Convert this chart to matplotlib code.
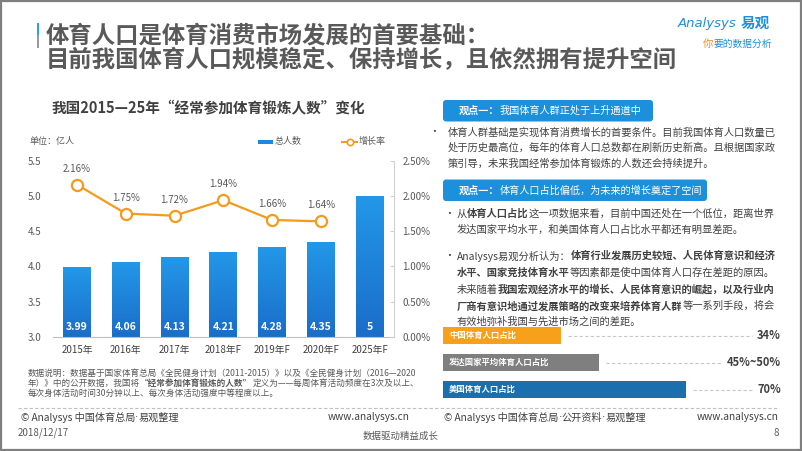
import numpy as np
import matplotlib
matplotlib.use('Agg')
import matplotlib.pyplot as plt
from matplotlib.patches import FancyBboxPatch, Rectangle
from matplotlib.colors import LinearSegmentedColormap

FAM = ['Noto Sans CJK SC', 'DejaVu Sans']
plt.rcParams['font.family'] = FAM

# ---------------- data ----------------
categories = ['2015年', '2016年', '2017年', '2018年F', '2019年F', '2020年F', '2025年F']
population = [3.99, 4.06, 4.13, 4.21, 4.28, 4.35, 5]
pop_labels = ['3.99', '4.06', '4.13', '4.21', '4.28', '4.35', '5']
growth = [2.16, 1.75, 1.72, 1.94, 1.66, 1.64]
left_ticks = [3.0, 3.5, 4.0, 4.5, 5.0, 5.5]
right_ticks = [0.0, 0.5, 1.0, 1.5, 2.0, 2.5]

share_labels = ['中国体育人口占比', '发达国家平均体育人口占比', '美国体育人口占比']
share_values = [34, 45, 70]
share_texts = ['34%', '45%~50%', '70%']
share_colors = ['#F7A11A', '#7F7F7F', '#1A6FAE']

W, H = 802, 451
fig = plt.figure(figsize=(W / 100, H / 100), dpi=100)
fig.patch.set_facecolor('white')

ov = fig.add_axes([0, 0, 1, 1])
ov.set_xlim(0, W)
ov.set_ylim(H, 0)
ov.axis('off')
renderer = fig.canvas.get_renderer()

DARK = '#404040'
GRAY = '#595959'
BLUE = '#1E8FD8'
ORANGE = '#F59B1C'


def px_axes(x0, y0, x1, y1):
    return fig.add_axes([x0 / W, 1 - y1 / H, (x1 - x0) / W, (y1 - y0) / H])


def rich(x, y, segs, size=7.4, color=DARK):
    for seg in segs:
        txt, bold = seg[0], seg[1]
        fam = seg[2] if len(seg) > 2 else FAM
        t = ov.text(x, y, txt, fontsize=size, fontweight='bold' if bold else 'normal',
                    color=color, ha='left', va='center', family=fam)
        x += t.get_window_extent(renderer).width
    return x


# ---------------- frame & header ----------------
ov.add_patch(Rectangle((1, 1), W - 2, H - 2.5, fill=False, ec='#7F7F7F', lw=1.6))
ov.add_patch(Rectangle((36.5, 23), 2.5, 12, color='#2AA0E6', lw=0))
ov.add_patch(Rectangle((36.5, 35), 2.5, 13, color='#9A9A9A', lw=0))
ov.text(46, 35, '体育人口是体育消费市场发展的首要基础：', fontsize=16.8, fontweight='bold',
        color=GRAY, va='center', ha='left')
ov.text(46, 60, '目前我国体育人口规模稳定、保持增长，且依然拥有提升空间', fontsize=16.8,
        fontweight='bold', color=GRAY, va='center', ha='left')
ov.text(678, 23, 'Analysys', fontsize=9.5, style='italic', family='DejaVu Sans',
        color=BLUE, va='center', ha='left')
ov.text(741, 23, '易观', fontsize=10.5, fontweight='bold', color=BLUE, va='center', ha='left')
ov.text(703, 44, '你', fontsize=7.5, color='#F08C1E', va='center', ha='left')
ov.text(713, 44, '要的数据分析', fontsize=7, color=BLUE, va='center', ha='left')

# ---------------- left chart ----------------
ov.text(208.5, 108, '我国2015—25年“经常参加体育锻炼人数”变化', fontsize=10.5,
        fontweight='bold', color=DARK, ha='center', va='center')
ov.text(30, 141.5, '单位：亿人', fontsize=6.5, color=GRAY, va='center')
ov.add_patch(Rectangle((258, 139.5), 15, 4.5, color='#1E88E0', lw=0))
ov.text(275, 141.5, '总人数', fontsize=6.5, color=GRAY, va='center')
ov.plot([342, 357], [141.5, 141.5], color=ORANGE, lw=1.5)
ov.plot([349.5], [141.5], marker='o', ms=4.5, mfc='white', mec=ORANGE, mew=1.2)
ov.text(359, 141.5, '增长率', fontsize=6.5, color=GRAY, va='center')

ax = px_axes(52.6, 160.7, 394, 337)
ax.set_facecolor('none')
xs = np.arange(len(categories))
bars = ax.bar(xs, population, width=0.57, color='#1E88E0', zorder=2)
cmap = LinearSegmentedColormap.from_list('g', ['#2398E8', '#1A6DC8'])
grad = np.linspace(0, 1, 256).reshape(-1, 1)
for b in bars:
    im = ax.imshow(grad, extent=[b.get_x(), b.get_x() + b.get_width(), 3.0, b.get_height()],
                   cmap=cmap, aspect='auto', zorder=2.1, origin='upper')
    im.set_clip_path(b)
for i, lbl in enumerate(pop_labels):
    ax.annotate(lbl, (xs[i], 3.0), xytext=(0, 7.4), textcoords='offset points',
                ha='center', va='center', color='white', fontsize=7.5, fontweight='bold', zorder=5)
ax.set_xlim(-0.5, len(categories) - 0.5)
ax.set_ylim(left_ticks[0], left_ticks[-1])
ax.set_yticks(left_ticks)
ax.set_yticklabels([f'{v:.1f}' for v in left_ticks])
ax.set_xticks(xs)
ax.set_xticklabels(categories)
for s in ['top', 'left', 'right']:
    ax.spines[s].set_visible(False)
ax.spines['bottom'].set_color('#BFBFBF')
ax.tick_params(axis='y', length=0, pad=8, labelsize=7, labelcolor=GRAY)
ax.tick_params(axis='x', length=0, pad=6, labelsize=7, labelcolor=DARK)

ax2 = ax.twinx()
ax2.set_ylim(right_ticks[0], right_ticks[-1])
ax2.set_yticks(right_ticks)
ax2.set_yticklabels([f'{v:.2f}%' for v in right_ticks])
for s in ['top', 'left', 'bottom']:
    ax2.spines[s].set_visible(False)
ax2.spines['right'].set_color('#D0D0D0')
ax2.tick_params(axis='y', direction='in', length=3, color='#D0D0D0', pad=6,
                labelsize=7, labelcolor=GRAY)
gx = xs[:len(growth)]
ax2.plot(gx, growth, color=ORANGE, lw=1.6, marker='o', ms=8, mfc='white', mec=ORANGE,
         mew=1.6, zorder=4)
for i, g in enumerate(growth):
    ax2.annotate(f'{g:.2f}%', (gx[i], g), xytext=(0, 11.5), textcoords='offset points',
                 ha='center', va='center', fontsize=7, color=GRAY)

# notes
rich(28, 373, [('数据说明：数据基于国家体育总局《全民健身计划（2011-2015）》以及《全民健身计划（2016—2020', False)],
     size=6.2, color=GRAY)
rich(28, 383, [('年）》中的公开数据，我国将', False), ('“经常参加体育锻炼的人数”', True),
               ('定义为——每周体育活动频度在3次及以上、', False)], size=6.2, color=GRAY)
rich(28, 393, [('每次身体活动时间30分钟以上、每次身体活动强度中等程度以上。', False)],
     size=6.2, color=GRAY)

# ---------------- right panel ----------------
for (x0, x1, y0, y1, head, rest) in [
        (443, 653, 100, 121.5, '观点一：', '我国体育人群正处于上升通道中'),
        (443, 707, 179.5, 201, '观点一：', '体育人口占比偏低，为未来的增长奠定了空间')]:
    ov.add_patch(FancyBboxPatch((x0, y0), x1 - x0, y1 - y0,
                                boxstyle='round,pad=0,rounding_size=3', fc='#1C90DA', ec='none'))
    rich(459, (y0 + y1) / 2, [(head, True), (rest, False)], size=7.3, color='white')

ov.text(429, 132, '•', fontsize=7, color=DARK, va='center')
rich(448, 132, [('体育人群基础是实现体育消费增长的首要条件。目前我国体育人口数量已', False)])
rich(448, 148, [('处于历史最高位，每年的体育人口总数都在刷新历史新高。且根据国家政', False)])
rich(448, 164, [('策引导，未来我国经常参加体育锻炼的人数还会持续提升。', False)])

ov.text(444, 214, '•', fontsize=7, color=DARK, va='center')
rich(457, 214, [('从', False), ('体育人口占比', True), ('这一项数据来看，目前中国还处在一个低位，距离世界', False)])
rich(457, 230, [('发达国家平均水平，和美国体育人口占比水平都还有明显差距。', False)])

ov.text(444, 256, '•', fontsize=7, color=DARK, va='center')
rich(457, 256, [('Analysys易观分析认为：', False), ('体育行业发展历史较短、人民体育意识和经济', True)])
rich(457, 273, [('水平、国家竞技体育水平', True), ('等因素都是使中国体育人口存在差距的原因。', False)])
rich(457, 289.5, [('未来随着', False), ('我国宏观经济水平的增长、人民体育意识的崛起，以及行业内', True)])
rich(457, 306, [('厂商有意识地通过发展策略的改变来培养体育人群', True), ('等一系列手段，将会', False)])
rich(457, 322, [('有效地弥补我国与先进市场之间的差距。', False)])

# horizontal comparison bars
bx = px_axes(443, 322.2, 790, 403.2)
bx.axis('off')
ys = np.arange(len(share_values))
bx.barh(ys, share_values, height=0.62, color=share_colors)
bx.set_xlim(0, 100)
bx.set_ylim(len(share_values) - 0.5, -0.5)
for i in range(len(share_values)):
    bx.annotate(share_labels[i], (0, ys[i]), xytext=(4.5, 0), textcoords='offset points',
                ha='left', va='center', color='white', fontsize=6, fontweight='bold')
    t = bx.annotate(share_texts[i], (1, ys[i]), xycoords=('axes fraction', 'data'),
                    xytext=(-6.5, 0), textcoords='offset points', ha='right', va='center',
                    color=DARK, fontsize=8, fontweight='bold')
    bb = t.get_window_extent(renderer)
    y_px = 335.7 + 27 * i
    x_start = 443 + share_values[i] * 3.47 + 7
    ov.plot([x_start, bb.x0 - 5], [y_px, y_px], color='#C8C8C8', lw=0.8, ls=(0, (3, 2)))

# ---------------- footer ----------------
ov.plot([18, 779], [408, 408], color='#BFBFBF', lw=0.8, ls=(0, (3, 2)))
DOT = ('·', False, 'DejaVu Sans')
rich(21, 417.5, [('© Analysys 中国体育总局', False), DOT, ('易观整理', False)], size=7.3, color=DARK)
ov.text(410, 417.5, 'www.analysys.cn', fontsize=7.3, color=DARK, va='center', ha='right')
rich(444, 417.5, [('© Analysys 中国体育总局', False), DOT, ('公开资料', False), DOT, ('易观整理', False)],
     size=7.3, color=DARK)
ov.text(779, 417.5, 'www.analysys.cn', fontsize=7.3, color=DARK, va='center', ha='right')
ov.text(18, 432.5, '2018/12/17', fontsize=7, color=GRAY, va='center')
ov.text(401, 436, '数据驱动精益成长', fontsize=6.8, color=GRAY, va='center', ha='center')
ov.text(779, 432.5, '8', fontsize=7, color=GRAY, va='center', ha='right')

fig.savefig('out.png', dpi=100, facecolor='white')
